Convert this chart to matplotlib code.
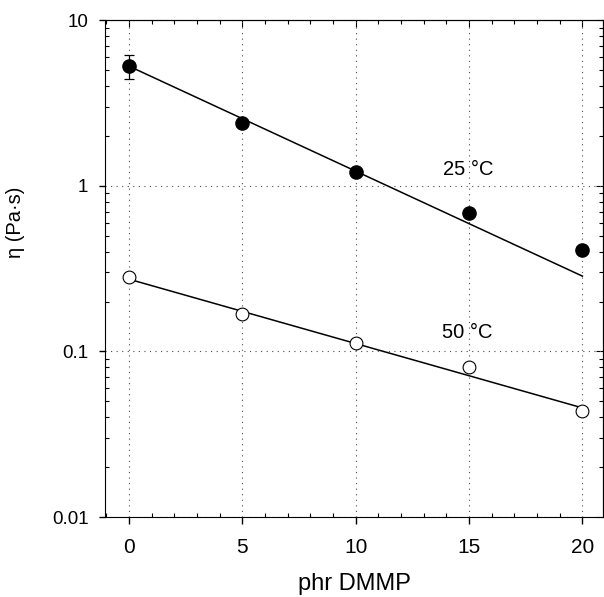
import numpy as np
import matplotlib.pyplot as plt
from matplotlib.ticker import MultipleLocator, LogLocator, FixedFormatter, FixedLocator

plt.rcParams['font.family'] = ['Liberation Sans', 'DejaVu Sans']

# data
phr = [0, 5, 10, 15, 20]
eta25 = [5.28, 2.41, 1.22, 0.685, 0.41]
eta25_err_lo = [0.83, 0, 0, 0, 0]
eta25_err_hi = [0.85, 0, 0, 0, 0]
eta50 = [0.28, 0.168, 0.112, 0.080, 0.0438]
# fitted lines (end points)
fit_x = [0, 20]
fit25 = [5.28, 0.285]
fit50 = [0.273, 0.0456]

fig = plt.figure(figsize=(6.04, 5.97), dpi=100)
ax = fig.add_axes([0.174, 0.134, 0.824, 0.832])

ax.set_yscale('log')
ax.set_xlim(-1.06, 20.9)
ax.set_ylim(0.01, 10)

# grid
ax.grid(True, which='major', color='0.3', linestyle=(0, (1, 4)), linewidth=0.8)

ax.plot(fit_x, fit25, color='black', lw=1.1, zorder=3)
ax.plot(fit_x, fit50, color='black', lw=1.1, zorder=3)
ax.errorbar(phr, eta25, yerr=[eta25_err_lo, eta25_err_hi], fmt='o', color='black',
            ms=9.5, capsize=3.5, elinewidth=0.9, capthick=0.9, zorder=4)
ax.plot(phr, eta50, 'o', mfc='white', mec='black', mew=0.8, ms=9.2, zorder=4)

ax.text(13.85, 1.17, '25 °C', fontsize=14.5)
ax.text(13.8, 0.12, '50 °C', fontsize=14.5)

ax.xaxis.set_major_locator(MultipleLocator(5))
ax.xaxis.set_minor_locator(MultipleLocator(1))
ax.yaxis.set_major_locator(FixedLocator([0.01, 0.1, 1, 10]))
ax.yaxis.set_major_formatter(FixedFormatter(['0.01', '0.1', '1', '10']))
ax.yaxis.set_minor_locator(LogLocator(base=10, subs=np.arange(2, 10)))

ax.tick_params(axis='x', which='major', direction='out', length=5, width=1, labelsize=15, pad=10)
ax.tick_params(axis='y', which='major', direction='out', length=4, width=1, labelsize=13.5, pad=8)
ax.tick_params(which='minor', direction='in', length=3, width=0.8)
ax.yaxis.set_minor_formatter(FixedFormatter([]))

# inward ticks on top and right
top = ax.secondary_xaxis('top')
top.xaxis.set_major_locator(MultipleLocator(5))
top.xaxis.set_minor_locator(MultipleLocator(1))
top.tick_params(which='major', direction='in', length=5, labeltop=False)
top.tick_params(which='minor', direction='in', length=3, width=0.8)
right = ax.secondary_yaxis('right')
right.yaxis.set_major_locator(FixedLocator([0.01, 0.1, 1, 10]))
right.yaxis.set_minor_locator(LogLocator(base=10, subs=np.arange(2, 10)))
right.tick_params(which='major', direction='in', length=5, labelright=False)
right.tick_params(which='minor', direction='in', length=3, width=0.8)
right.yaxis.set_minor_formatter(FixedFormatter([]))

ax.set_xlabel('phr DMMP', fontsize=17)
ax.set_ylabel('η (Pa·s)', fontsize=14.5)
ax.xaxis.set_label_coords(0.5, -0.113)
ax.yaxis.set_label_coords(-0.16, 0.594)

fig.savefig('out.png', dpi=100)
